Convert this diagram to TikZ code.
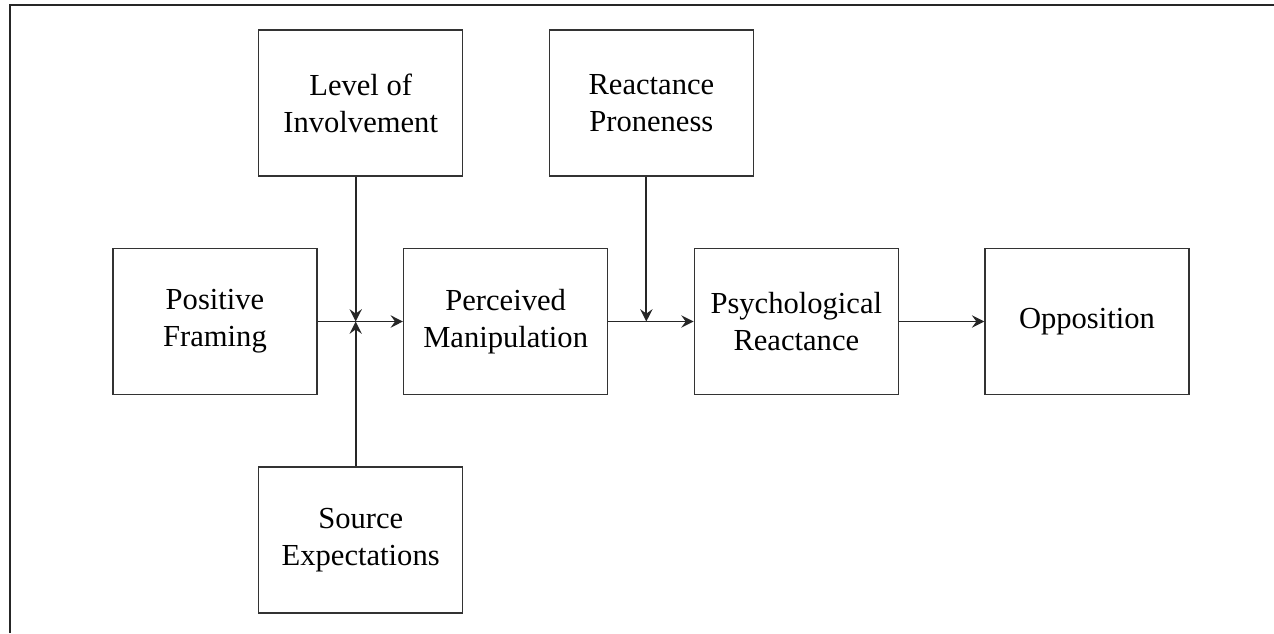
\documentclass[tikz,border=0pt]{standalone}
\usepackage{fontspec}
\setmainfont{Liberation Serif}
\usepackage{tikz}
\usetikzlibrary{positioning, arrows.meta}
\tikzstyle{factor} = [rectangle, minimum width=4.08cm, minimum height=2.92cm, text centered, align=center, draw=black!80, line width=0.8pt, font=\fontsize{17.4}{21}\selectfont]
\tikzstyle{arrow} = [line width=1.1pt, black!85, ->, >={Stealth[length=7pt,width=7pt,inset=2.5pt]}]

\begin{document}
\begin{tikzpicture}[node distance=1.705cm]
        \useasboundingbox (0,0) rectangle (25.48,-12.66);
        \draw [line width=1.4pt, black!85] (0.2,-12.66) -- (0.2,-0.1) -- (25.48,-0.1);

        \node (frame) [factor] at (4.30,-6.43) {Positive\\Framing};
        \node (manip) [factor, right=of frame] {Perceived\\Manipulation};
        \node (react) [factor, right=of manip] {Psychological\\Reactance};
        \node (oppo) [factor, right=of react] {Opposition};
        \node (involve) [factor, above=1.42cm of frame.north east, anchor=south, xshift=0.86cm] {Level of\\Involvement};
        \node (prone) [factor, above=1.42cm of manip.north east, anchor=south, xshift=0.86cm] {Reactance\\Proneness};
        \node (expect) [factor, below=1.42cm of frame.south east, anchor=north, xshift=0.86cm] {Source\\Expectations};

        \coordinate (j1) at ([xshift=-0.1cm]involve.south |- frame.east);
        \coordinate (j2) at ([xshift=-0.1cm]prone.south |- manip.east);

        \draw [arrow] (frame) -- (manip);
        \draw [arrow] (involve.south -| j1) -- (j1);
        \draw [arrow] (expect.north -| j1) -- (j1);
        \draw [arrow] (manip) -- (react);
        \draw [arrow] (prone.south -| j2) -- (j2);
        \draw [arrow] (react) -- (oppo);
    \end{tikzpicture}
\end{document}
